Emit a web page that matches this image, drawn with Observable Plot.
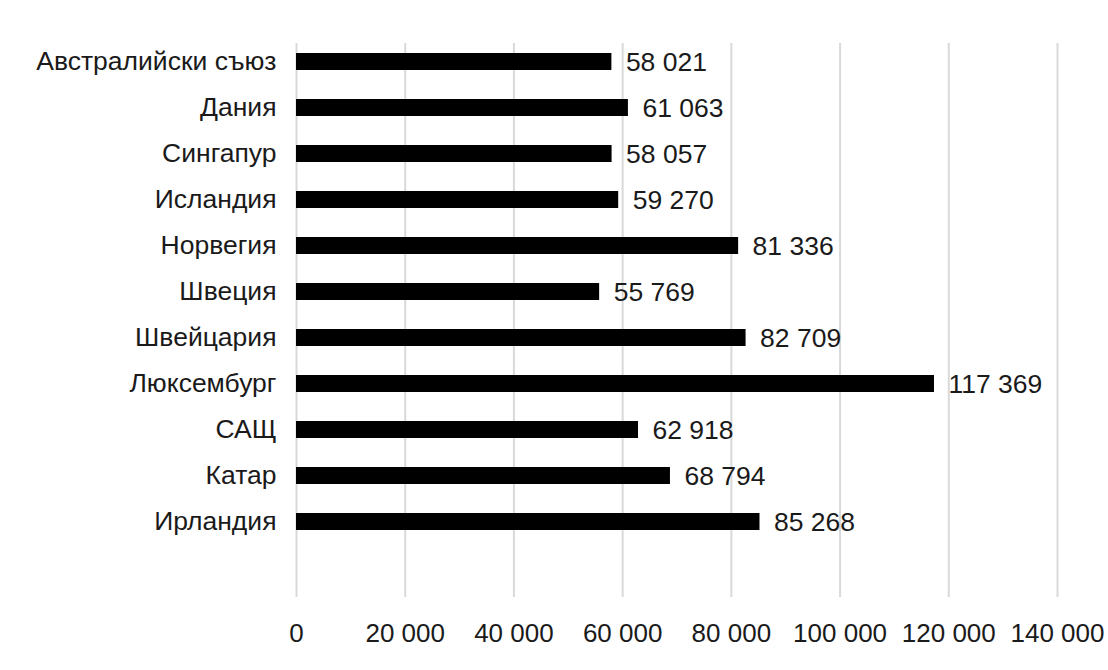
<!DOCTYPE html>
<html>
<head>
<meta charset="utf-8">
<script src="https://cdn.jsdelivr.net/npm/d3@7"></script>
<script src="https://cdn.jsdelivr.net/npm/@observablehq/plot@0.6"></script>
<style>
  html, body { margin: 0; padding: 0; background: #fff; }
  #chart { width: 1108px; height: 670px; }
  svg { font-family: "Liberation Sans", Arial, sans-serif; }
</style>
</head>
<body>
<div id="chart"></div>
<script>
const countries = ["Австралийски съюз", "Дания", "Сингапур", "Исландия", "Норвегия", "Швеция", "Швейцария", "Люксембург", "САЩ", "Катар", "Ирландия"];
const values = [58021, 61063, 58057, 59270, 81336, 55769, 82709, 117369, 62918, 68794, 85268];
const xTicks = [0, 20000, 40000, 60000, 80000, 100000, 120000, 140000];

const data = countries.map((c, i) => ({country: c, value: values[i]}));
const fmt = v => d3.format(",")(v).replace(/,/g, " ");

const chart = Plot.plot({
  width: 1108,
  height: 670,
  marginLeft: 296,
  marginRight: 51,
  marginTop: 43,
  marginBottom: 73,
  style: {fontFamily: "'Liberation Sans', Arial, sans-serif", background: "#fff"},
  x: {domain: [0, 140000], axis: null},
  y: {domain: countries, range: [33.6, 548.4], paddingInner: 0.64, paddingOuter: 0.32, axis: null},
  marks: [
    Plot.ruleX(xTicks, {stroke: "#d9d9d9", strokeWidth: 2}),
    Plot.barX(data, {y: "country", x: "value", fill: "#000"}),
    Plot.text(data, {y: "country", x: "value", text: d => fmt(d.value), textAnchor: "start", dx: 14, dy: 1, fontSize: 26.5, fill: "#1a1a1a"}),
    Plot.text(data, {y: "country", text: "country", frameAnchor: "left", textAnchor: "end", dx: -20, fontSize: 26.5, fill: "#1a1a1a"}),
    Plot.text(xTicks, {x: d => d, text: d => fmt(d), frameAnchor: "bottom", dy: 36, lineAnchor: "middle", textAnchor: "middle", fontSize: 26, fill: "#1a1a1a"})
  ]
});
document.getElementById("chart").appendChild(chart);
</script>
</body>
</html>
